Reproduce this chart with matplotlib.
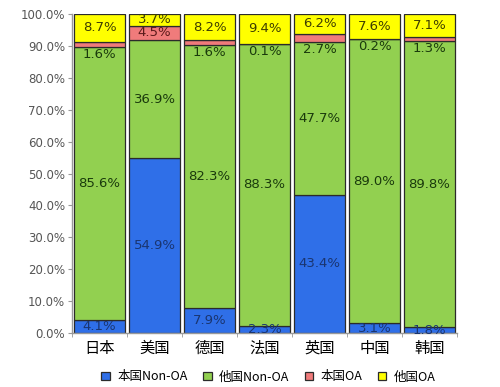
import matplotlib
matplotlib.use("Agg")
import matplotlib.pyplot as plt
import numpy as np
from matplotlib.patches import Patch

plt.rcParams['font.family'] = ['Noto Sans CJK SC', 'DejaVu Sans']

countries = ['日本', '美国', '德国', '法国', '英国', '中国', '韩国']
home_nonoa = [4.1, 54.9, 7.9, 2.3, 43.4, 3.1, 1.8]
other_nonoa = [85.6, 36.9, 82.3, 88.3, 47.7, 89.0, 89.8]
home_oa = [1.6, 4.5, 1.6, 0.1, 2.7, 0.2, 1.3]
other_oa = [8.7, 3.7, 8.2, 9.4, 6.2, 7.6, 7.1]
series_names = ['本国Non-OA', '他国Non-OA', '本国OA', '他国OA']
yticks = [0, 10, 20, 30, 40, 50, 60, 70, 80, 90, 100]

colors = ['#2f6fe8', '#92d050', '#f07b7b', '#ffff00']
text_colors = ['#1a3570', '#1a3a0c', '#5a1a1a', '#3d3d00']

fig = plt.figure(figsize=(5.0, 3.87), dpi=100)
ax = fig.add_axes([0.144, 0.1395, 0.77, 0.8243])

x = np.arange(len(countries))
width = 0.92
series = [home_nonoa, other_nonoa, home_oa, other_oa]
bottom = np.zeros(len(countries))
for s, (vals, col) in enumerate(zip(series, colors)):
    vals = np.array(vals)
    ax.bar(x, vals, width, bottom=bottom, color=col, edgecolor='#2b2b2b',
           linewidth=0.9, zorder=2)
    for i, v in enumerate(vals):
        if s == 2 and v < 3:
            y = bottom[i] - 2.3
            tc = text_colors[1]
        else:
            y = bottom[i] + v / 2
            tc = text_colors[s]
        ax.text(x[i], y, f'{v:.1f}%', ha='center', va='center',
                fontsize=9.5, color=tc, family='DejaVu Sans', zorder=3)
    bottom = bottom + vals

ax.set_xlim(-0.5, 6.46)
ax.set_ylim(0, 100)
ax.set_yticks(yticks)
ax.set_yticklabels([f'{t:.1f}%' for t in yticks], family='DejaVu Sans',
                   fontsize=8.5, color='#555555')
ax.tick_params(axis='y', length=3, color='#999999', pad=2)

ax.set_xticks(x)
ax.set_xticklabels(countries, fontsize=11)
ax.tick_params(axis='x', length=0, pad=5)
ax.set_xticks(np.arange(-0.5, 7, 1), minor=True)
ax.tick_params(axis='x', which='minor', length=3, color='#999999')

for side in ['top', 'right']:
    ax.spines[side].set_visible(False)
for side in ['left', 'bottom']:
    ax.spines[side].set_color('#999999')
    ax.spines[side].set_linewidth(1.0)

handles = [Patch(facecolor=c, edgecolor='#2b2b2b', linewidth=0.9) for c in colors]
fig.legend(handles, series_names, loc='center', bbox_to_anchor=(0.537, 0.026),
           ncol=4, frameon=False, fontsize=9, handlelength=0.7,
           handleheight=0.7, handletextpad=0.6, columnspacing=1.2)

fig.savefig('out.png', dpi=100)
